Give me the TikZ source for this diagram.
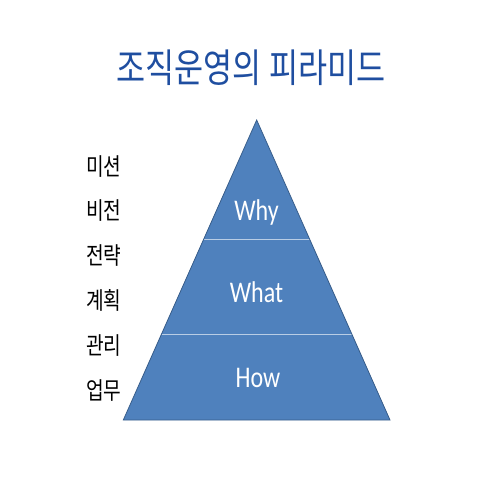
\documentclass[tikz,border=0pt]{standalone}
\usepackage{fontspec}
\newfontfamily\hangul[FakeStretch=0.8]{Noto Sans CJK KR}
\newfontfamily\latinsans[FakeStretch=0.8]{Carlito}
\definecolor{pyrfill}{HTML}{4F81BD}
\definecolor{pyredge}{HTML}{385D8A}
\definecolor{pyrline}{HTML}{B9CDE5}
\definecolor{titleblue}{HTML}{1F4EA0}
\begin{document}
\begin{tikzpicture}[x=1pt,y=-1pt,
        level/.style={inner sep=0pt,anchor=base,text=white,font=\latinsans\fontsize{30}{30}\selectfont},
        side/.style={inner sep=0pt,anchor=west,font=\hangul\fontsize{24}{24}\selectfont}]
                \useasboundingbox (0,0) rectangle (480,480);
                \coordinate (top) at (256.7,120);
                \coordinate (bl) at (123.3,420);
                \coordinate (br) at (390,420);
                \fill[pyrfill] (top) -- (br) -- (bl) -- cycle;
                \draw[pyrline,line width=1.5pt] (203.6,239.5) -- (309.8,239.5);
                \draw[pyrline,line width=1.5pt] (161.4,334.5) -- (352,334.5);
                \draw[pyredge,line width=0.8pt] (top) -- (br) -- (bl) -- cycle;
                \node[inner sep=0pt,text=titleblue,font=\hangul\fontsize{39.5}{39.5}\selectfont] (title) at (251,67.5) {조직운영의 피라미드};
                \node[level] (why) at (256.5,220) {Why};
                \node[level] (what) at (256.5,302) {What};
                \node[level] (how) at (258,387) {How};
                \node[side] (s1) at (86,167) {미션};
                \node[side] (s2) at (86,211) {비전};
                \node[side] (s3) at (86,256) {전략};
                \node[side] (s4) at (86,300) {계획};
                \node[side] (s5) at (86,346) {관리};
                \node[side] (s6) at (86,390) {업무};
                \end{tikzpicture}
\end{document}
